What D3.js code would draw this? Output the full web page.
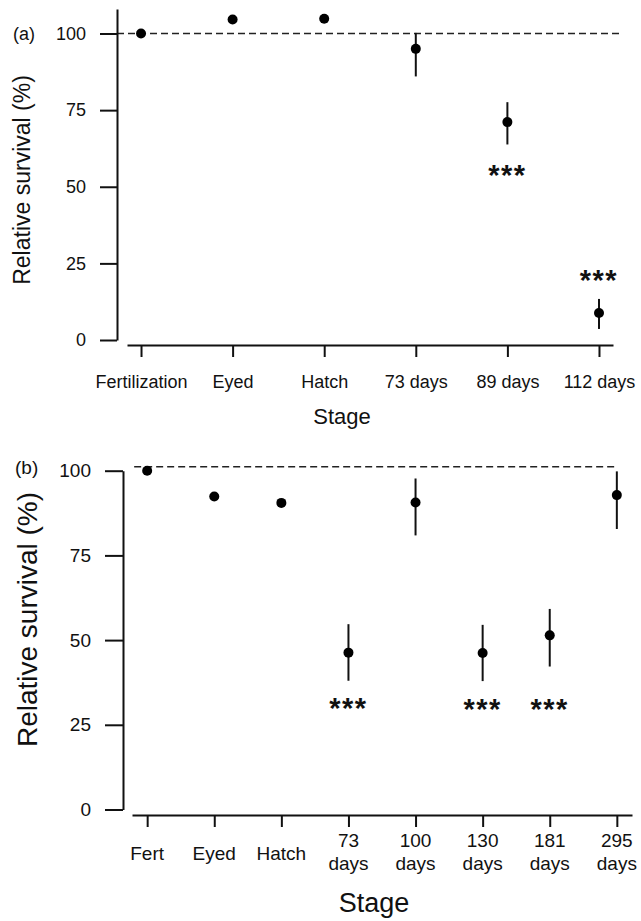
<!DOCTYPE html>
<html>
<head>
<meta charset="utf-8">
<script src="https://cdn.jsdelivr.net/npm/d3@7"></script>
<style>
  html, body { margin: 0; padding: 0; background: #fff; }
  svg { display: block; }
  text { font-family: "Liberation Sans", Arial, Helvetica, sans-serif; fill: #111; }
</style>
</head>
<body>
<script>
// ---------- Panel (a) data ----------
const stagesA = ["Fertilization", "Eyed", "Hatch", "73 days", "89 days", "112 days"];
const meanA   = [100, 104.6, 104.8, 95.0, 71.1, 8.8];
const lowerA  = [null, null, null, 86.0, 63.8, 3.6];
const upperA  = [null, null, null, 100.2, 77.6, 13.4];
const starA   = [null, null, null, null, 56.0, 21.8];   // y-level (value) of "***"
const yTicksA = [0, 25, 50, 75, 100];
const refA    = 100;

// ---------- Panel (b) data ----------
const stagesB = ["Fert", "Eyed", "Hatch", "73 days", "100 days", "130 days", "181 days", "295 days"];
const meanB   = [100, 92.4, 90.5, 46.3, 90.6, 46.2, 51.4, 92.8];
const lowerB  = [null, null, null, 38.0, 80.9, 37.9, 42.2, 82.8];
const upperB  = [null, null, null, 54.7, 97.7, 54.5, 59.2, 99.8];
const starB   = [null, null, null, 31.8, null, 31.5, 31.5, null];
const yTicksB = [0, 25, 50, 75, 100];
const refB    = 101.2;

const svg = d3.select("body").append("svg")
  .attr("width", 641).attr("height", 921);

function styleAxis(g, fs) {
  g.select(".domain").attr("stroke", "#111").attr("stroke-width", 2);
  g.selectAll(".tick line").attr("stroke", "#111").attr("stroke-width", 2);
  g.selectAll(".tick text").attr("font-size", fs).attr("fill", "#111")
    .attr("font-family", '"Liberation Sans", Arial, Helvetica, sans-serif');
}

function drawPoints(g, stages, x, y, mean, lower, upper, stars, r, starFs) {
  const rows = stages.map((s, i) => ({ s, m: mean[i], lo: lower[i], hi: upper[i], st: stars[i] }));
  g.selectAll("line.err").data(rows.filter(d => d.lo != null)).join("line")
    .attr("class", "err")
    .attr("x1", d => x(d.s)).attr("x2", d => x(d.s))
    .attr("y1", d => y(d.lo)).attr("y2", d => y(d.hi))
    .attr("stroke", "#111").attr("stroke-width", 2);
  g.selectAll("circle.pt").data(rows).join("circle")
    .attr("class", "pt")
    .attr("cx", d => x(d.s)).attr("cy", d => y(d.m)).attr("r", r)
    .attr("fill", "#000");
  g.selectAll("text.star").data(rows.filter(d => d.st != null)).join("text")
    .attr("class", "star")
    .attr("x", d => x(d.s)).attr("y", d => y(d.st) + 0.575 * starFs)
    .attr("text-anchor", "middle").attr("font-size", starFs)
    .attr("font-weight", "bold")
    .attr("letter-spacing", "1.5px")
    .text("***");
}

// ================= Panel (a) =================
{
  const g = svg.append("g");
  const x = d3.scalePoint().domain(stagesA).range([127, 613]).padding(0.153);
  const y = d3.scaleLinear().domain([0, 108]).range([340, 9]);

  g.append("line")
    .attr("x1", 117).attr("x2", x(stagesA[stagesA.length - 1]) + 24)
    .attr("y1", y(refA)).attr("y2", y(refA))
    .attr("stroke", "#222").attr("stroke-width", 1.5).attr("stroke-dasharray", "7,4");

  const ya = g.append("g").attr("transform", "translate(117,0)")
    .call(d3.axisLeft(y).tickValues(yTicksA).tickSize(17).tickSizeOuter(0).tickPadding(14));
  styleAxis(ya, 18);

  const xa = g.append("g").attr("transform", "translate(0,345)")
    .call(d3.axisBottom(x).tickSize(12).tickSizeOuter(0).tickPadding(18));
  styleAxis(xa, 18);

  drawPoints(g, stagesA, x, y, meanA, lowerA, upperA, starA, 5, 29);

  g.append("text").attr("x", 13).attr("y", 39.5).attr("font-size", 18).text("(a)");
  g.append("text").attr("transform", "translate(30,180) rotate(-90)")
    .attr("text-anchor", "middle").attr("font-size", 23).text("Relative survival (%)");
  g.append("text").attr("x", 342).attr("y", 424)
    .attr("text-anchor", "middle").attr("font-size", 22).text("Stage");
}

// ================= Panel (b) =================
{
  const g = svg.append("g");
  const x = d3.scalePoint().domain(stagesB).range([132, 632]).padding(0.226);
  const y = d3.scaleLinear().domain([0, 100]).range([809.5, 470.7]);

  g.append("line")
    .attr("x1", x(stagesB[0]) - 13).attr("x2", x(stagesB[stagesB.length - 1]) + 1)
    .attr("y1", y(refB)).attr("y2", y(refB))
    .attr("stroke", "#222").attr("stroke-width", 1.5).attr("stroke-dasharray", "7,4");

  const ya = g.append("g").attr("transform", "translate(123,0)")
    .call(d3.axisLeft(y).tickValues(yTicksB).tickSize(18).tickSizeOuter(0).tickPadding(14));
  styleAxis(ya, 19);

  const xa = g.append("g").attr("transform", "translate(0,815)")
    .call(d3.axisBottom(x).tickSize(12).tickSizeOuter(0).tickFormat(""));
  styleAxis(xa, 19);

  const lab = g.selectAll("text.xl").data(stagesB).join("text")
    .attr("class", "xl")
    .attr("text-anchor", "middle").attr("font-size", 19)
    .attr("x", d => x(d))
    .attr("y", d => d.split(" ").length > 1 ? 847 : 860);
  lab.selectAll("tspan").data(d => d.split(" ").map(t => ({ t, d }))).join("tspan")
    .attr("x", o => x(o.d))
    .attr("dy", (o, i) => i === 0 ? 0 : 23)
    .text(o => o.t);

  drawPoints(g, stagesB, x, y, meanB, lowerB, upperB, starB, 5, 29);

  g.append("text").attr("x", 15).attr("y", 473.5).attr("font-size", 19).text("(b)");
  g.append("text").attr("transform", "translate(37,619.5) rotate(-90)")
    .attr("text-anchor", "middle").attr("font-size", 28).text("Relative survival (%)");
  g.append("text").attr("x", 374).attr("y", 912)
    .attr("text-anchor", "middle").attr("font-size", 27).text("Stage");
}
</script>
</body>
</html>
